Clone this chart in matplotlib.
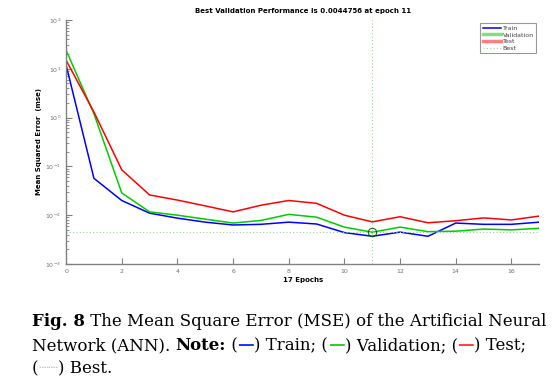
import matplotlib.pyplot as plt
import numpy as np

epochs = np.arange(0, 18)

# mse per epoch
train = [12.0, 0.057, 0.020, 0.011, 0.0087, 0.0072, 0.0063, 0.0065, 0.0072,
         0.0066, 0.0044, 0.0037, 0.0045, 0.0037, 0.0069, 0.0065, 0.0065, 0.0072]
valid = [24.0, 1.2, 0.0285, 0.0117, 0.0100, 0.0083, 0.0069, 0.0078, 0.0104,
         0.0091, 0.0057, 0.0044756, 0.0057, 0.0046, 0.0047, 0.0052, 0.0050, 0.0054]
test = [15.0, 1.3, 0.085, 0.026, 0.0204, 0.0155, 0.0117, 0.016, 0.020,
        0.0175, 0.010, 0.0073, 0.0093, 0.0070, 0.0077, 0.0088, 0.0080, 0.0096]

best_epoch = 11
best_perf = 0.0044756

fig = plt.figure(figsize=(5.6, 3.84), dpi=100)
ax = fig.add_axes([0.118, 0.3125, 0.845, 0.6355])

ax.semilogy(epochs, train, color="#0000ff", lw=1.1, label="Train")
ax.semilogy(epochs, valid, color="#00cc00", lw=1.1)
ax.semilogy(epochs, test, color="#ff0000", lw=1.1)
# proxies for the legend (matlab draws them lighter/thicker)
ax.plot([], [], color="#80e080", lw=2.5, label="Validation")
ax.plot([], [], color="#ff8080", lw=2.5, label="Test")
ax.axvline(best_epoch, color="#a0d0a0", lw=0.8, ls=(0, (1, 2)), label="Best")
ax.axhline(best_perf, color="#a0d0a0", lw=0.8, ls=(0, (1, 2)))
ax.plot(best_epoch, best_perf, "o", mfc="none", mec="#006000", ms=6, mew=0.7)

ax.set_xlim(0, 17)
ax.set_ylim(1e-3, 1e2)
ax.set_xticks(range(0, 17, 2))
ax.set_yticks([1e-3, 1e-2, 1e-1, 1e0, 1e1, 1e2])

for s in ["top", "right"]:
    ax.spines[s].set_visible(False)
for s in ["left", "bottom"]:
    ax.spines[s].set_color("#808080")
    ax.spines[s].set_linewidth(1.0)
ax.tick_params(which="both", direction="in", colors="#808080", labelsize=4.5,
               labelcolor="#707070")
ax.tick_params(which="major", length=4)
ax.tick_params(which="minor", length=2)

ax.set_title("Best Validation Performance is 0.0044756 at epoch 11",
             fontsize=5, fontweight="bold", pad=5)
ax.set_xlabel("17 Epochs", fontsize=5, fontweight="bold", labelpad=2)
ax.set_ylabel("Mean Squared Error  (mse)", fontsize=5, fontweight="bold", labelpad=2)

leg = ax.legend(loc="upper right", fontsize=4.5, frameon=True, fancybox=False,
                handlelength=3, borderpad=0.4, labelspacing=0.2, handletextpad=0.2,
                bbox_to_anchor=(1.0, 1.0))
leg.get_frame().set_edgecolor("#808080")
leg.get_frame().set_linewidth(0.8)
for t in leg.get_texts():
    t.set_color("#404040")

# caption, built from chained text pieces
fam = ["DejaVu Serif", "DejaVu Sans"]
fs = 12.0
lines = [
    [("Fig. 8", "bold", "black"), (" The Mean Square Error (MSE) of the Artificial Neural", "normal", "black")],
    [("Network (ANN). ", "normal", "black"), ("Note:", "bold", "black"), (" (", "normal", "black"),
     ("\u2014", "bold", "#2030ff"), (") Train; (", "normal", "black"), ("\u2014", "bold", "#30cc30"),
     (") Validation; (", "normal", "black"), ("\u2014", "bold", "#ff4040"), (") Test;", "normal", "black")],
    [("(", "normal", "black"), ("\u2508\u2508", "normal", "#b0d8b0"), (") Best.", "normal", "black")],
]
ys = [0.151, 0.0885, 0.0286]
for parts, y in zip(lines, ys):
    prev = None
    for txt, wt, col in parts:
        if prev is None:
            prev = fig.text(0.057, y, txt, fontsize=fs, fontweight=wt, color=col,
                            family=fam, va="baseline")
        else:
            prev = ax.annotate(txt, xy=(1, 0), xycoords=prev, fontsize=fs, fontweight=wt,
                               color=col, family=fam, va="bottom",
                               annotation_clip=False)

fig.savefig("out.png", dpi=100)
